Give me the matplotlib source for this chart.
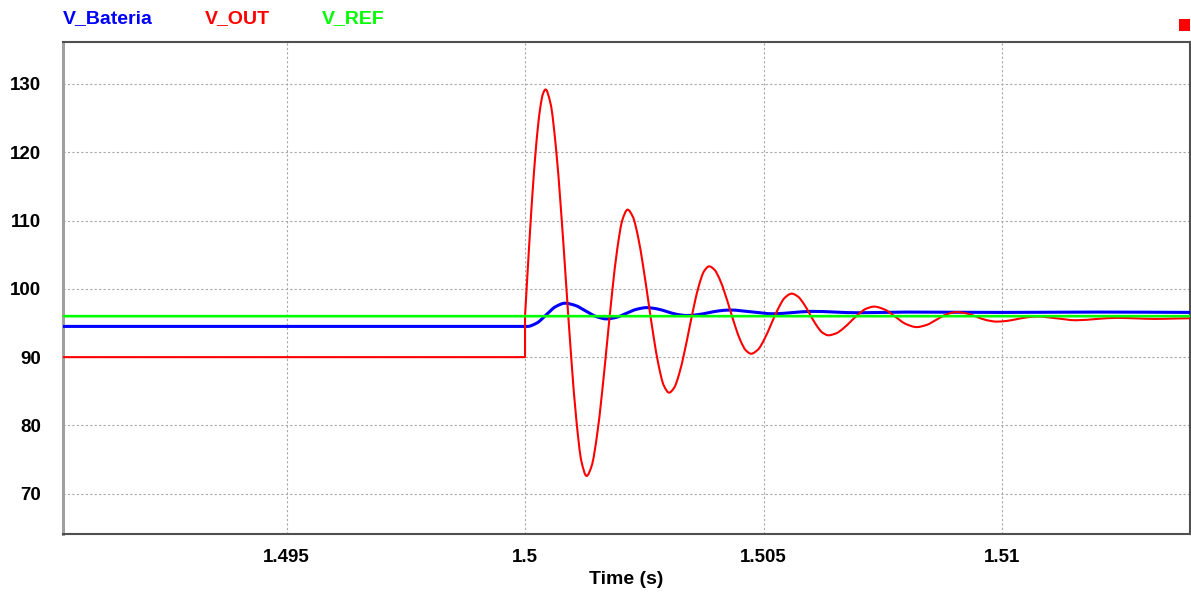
import numpy as np
import matplotlib
matplotlib.use("Agg")
import matplotlib.pyplot as plt
from matplotlib.patches import Rectangle, PathPatch
from matplotlib.path import Path

plt.rcParams["font.family"] = ["Liberation Sans", "DejaVu Sans"]
plt.rcParams["font.weight"] = "bold"

# step instant (s); series times are given in ms relative to it
T_STEP = 1.5

# V_OUT (red)
out_ms = [-9.7, 0.0, 0.0, 0.054, 0.1075, 0.161, 0.215, 0.269, 0.3225, 0.376, 0.43,
          0.5375, 0.645, 0.7525, 0.86, 0.9675, 1.075, 1.1825, 1.29,
          1.3975, 1.505, 1.6125, 1.72, 1.8275, 1.935, 2.0425, 2.15,
          2.259, 2.368, 2.476, 2.585, 2.694, 2.803, 2.911, 3.02,
          3.125, 3.23, 3.335, 3.44, 3.545, 3.65, 3.755, 3.86,
          3.97, 4.08, 4.19, 4.30, 4.41, 4.52, 4.63, 4.74,
          4.882, 5.023, 5.165, 5.307, 5.448, 5.59,
          5.718, 5.847, 5.975, 6.103, 6.232, 6.36,
          6.52, 6.68, 6.84, 7.00, 7.16, 7.32,
          7.543, 7.765, 7.988, 8.21,
          8.42, 8.63, 8.84, 9.05,
          9.26, 9.47, 9.68, 9.89,
          10.105, 10.32, 10.535, 10.75,
          11.15, 11.55, 12.0, 12.4, 12.8, 13.2, 13.6, 13.95]
out_v = [90.0, 90.0, 96.0, 102.48, 108.71, 114.45, 119.48, 123.61, 126.67, 128.56, 129.2,
         127.05, 120.91, 111.73, 100.9, 90.07, 80.89, 74.75, 72.6,
         74.08, 78.31, 84.64, 92.1, 99.56, 105.89, 110.12, 111.6,
         110.58, 107.68, 103.33, 98.2, 93.07, 88.72, 85.82, 84.8,
         85.5, 87.51, 90.51, 94.05, 97.59, 100.59, 102.6, 103.3,
         102.81, 101.43, 99.35, 96.9, 94.45, 92.37, 90.99, 90.5,
         91.09, 92.7, 94.9, 97.1, 98.71, 99.3,
         98.89, 97.78, 96.25, 94.73, 93.61, 93.2,
         93.48, 94.25, 95.3, 96.35, 97.12, 97.4,
         96.96, 95.9, 94.84, 94.4,
         94.72, 95.5, 96.28, 96.6,
         96.39, 95.9, 95.41, 95.2,
         95.31, 95.58, 95.84, 95.95,
         95.68, 95.4, 95.6, 95.75, 95.68, 95.6, 95.65, 95.7]

# V_Bateria (blue)
bat_ms = [-9.7, 0.05, 0.248, 0.445, 0.643, 0.84,
          1.058, 1.275, 1.493, 1.71,
          1.92, 2.13, 2.34, 2.55,
          2.76, 2.97, 3.18, 3.39,
          3.62, 3.845, 4.07, 4.30,
          4.75, 5.2, 5.6, 6.0, 7.0, 8.0, 10.0, 12.0, 13.95]
bat_v = [94.5, 94.5, 95.0, 96.2, 97.4, 97.9,
         97.56, 96.75, 95.94, 95.6,
         95.84, 96.43, 97.01, 97.25,
         97.08, 96.68, 96.27, 96.1,
         96.22, 96.5, 96.78, 96.9,
         96.63, 96.35, 96.52, 96.7, 96.5, 96.6, 96.55, 96.6, 96.55]

# V_REF (green)
ref_ms = [-9.7, 13.95]
ref_v = [96.0, 96.0]

x_ticks = [1.495, 1.5, 1.505, 1.51]
x_tick_labels = ["1.495", "1.5", "1.505", "1.51"]
y_ticks = [70, 80, 90, 100, 110, 120, 130]

series = [
    ("V_Bateria", bat_ms, bat_v, "#0000ff", 2.2),
    ("V_OUT", out_ms, out_v, "#ff0000", 1.5),
    ("V_REF", ref_ms, ref_v, "#00ff00", 1.9),
]


def smooth_path(x, y):
    # monotone cubic (pchip-like) Bezier path through the points,
    # straight jumps where two points share the same x
    x = np.asarray(x, float)
    y = np.asarray(y, float)
    cuts = [0] + [i + 1 for i in range(len(x) - 1) if x[i + 1] == x[i]] + [len(x)]
    verts, codes = [], []
    for a, b in zip(cuts[:-1], cuts[1:]):
        px, py = x[a:b], y[a:b]
        verts.append((px[0], py[0]))
        codes.append(Path.LINETO if len(codes) else Path.MOVETO)
        if len(px) < 2:
            continue
        h = np.diff(px)
        d = np.diff(py) / h
        m = np.zeros(len(px))
        m[0], m[-1] = d[0], d[-1]
        for k in range(1, len(px) - 1):
            if d[k - 1] * d[k] > 0:
                w1 = 2 * h[k] + h[k - 1]
                w2 = h[k] + 2 * h[k - 1]
                m[k] = (w1 + w2) / (w1 / d[k - 1] + w2 / d[k])
        for k in range(len(px) - 1):
            verts += [(px[k] + h[k] / 3, py[k] + m[k] * h[k] / 3),
                      (px[k + 1] - h[k] / 3, py[k + 1] - m[k + 1] * h[k] / 3),
                      (px[k + 1], py[k + 1])]
            codes += [Path.CURVE4] * 3
    return Path(verts, codes)


W, H = 1191, 597
ax_l, ax_r, ax_t, ax_b = 63, 1190, 42, 534

fig = plt.figure(figsize=(W / 100, H / 100), dpi=100)
ax = fig.add_axes([ax_l / W, 1 - ax_b / H, (ax_r - ax_l) / W, (ax_b - ax_t) / H])

for name, ms, v, color, lw in series:
    t = T_STEP + np.array(ms) * 1e-3
    ax.add_patch(PathPatch(smooth_path(t, v), fill=False, edgecolor=color, lw=lw,
                           joinstyle="round", capstyle="butt", zorder=3))

ax.set_xlim(1.490314, 1.513941)
ax.set_ylim(64.1, 136.15)
ax.set_xticks(x_ticks)
ax.set_xticklabels(x_tick_labels)
ax.set_yticks(y_ticks)
ax.tick_params(axis="both", length=0, labelsize=13.5, colors="black")
ax.tick_params(axis="x", pad=11)
ax.tick_params(axis="y", pad=16)
for lbl in ax.get_xticklabels() + ax.get_yticklabels():
    lbl.set_fontweight("bold")

ax.grid(True, color="#a8a8a8", lw=0.8, linestyle=(0, (2, 2)), zorder=1)
ax.set_axisbelow(True)

for side in ["top", "bottom", "right"]:
    ax.spines[side].set_color("#505050")
    ax.spines[side].set_linewidth(1.5)
ax.spines["left"].set_color("#a0a0a0")
ax.spines["left"].set_linewidth(2.2)

ax.set_xlabel("Time (s)", fontsize=14, fontweight="bold")
ax.xaxis.label.set_va("center")
ax.xaxis.set_label_coords(0.5, -(580 - ax_b) / (ax_b - ax_t))

# legend labels along the top
legend_x = [63, 205, 322]
for (name, ms, v, color, lw), lx in zip(series, legend_x):
    fig.text(lx / W, 1 - 19 / H, name, color=color, fontsize=14,
             fontweight="bold", ha="left", va="center")

fig.add_artist(Rectangle((1179 / W, 1 - 31 / H), 11 / W, 12 / H,
                         transform=fig.transFigure, color="#ff0000", lw=0))

fig.savefig("out.png", dpi=100, facecolor="white")
